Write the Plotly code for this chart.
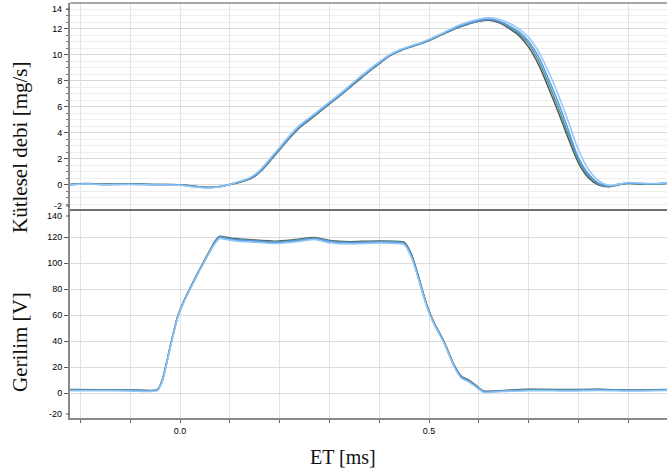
import plotly.graph_objects as go

# ---- measurement data -------------------------------------------------------
# time axis (ms) for the mass-flow traces
t_flow = [-0.22, -0.19, -0.15, -0.10, -0.05, 0.00, 0.02, 0.04, 0.06, 0.08,
          0.10, 0.12, 0.14, 0.15, 0.16, 0.17, 0.18, 0.20, 0.22, 0.24, 0.26, 0.28,
          0.30, 0.32, 0.34, 0.36, 0.38, 0.40, 0.42, 0.44, 0.46, 0.48,
          0.50, 0.52, 0.54, 0.56, 0.58, 0.60, 0.62, 0.64, 0.66, 0.68,
          0.70, 0.72, 0.74, 0.76, 0.78, 0.80, 0.82, 0.84, 0.86, 0.88,
          0.90, 0.94, 0.98]

# mass flow rate [mg/s], four injections
flow_1 = [0.02, 0.08, 0.03, 0.05, 0.02, 0.00, -0.10, -0.17, -0.20, -0.12,
          0.05, 0.25, 0.50, 0.72, 1.05, 1.45, 1.90, 2.80, 3.70, 4.50, 5.10, 5.70,
          6.30, 6.90, 7.55, 8.20, 8.80, 9.40, 9.95, 10.32, 10.60, 10.85,
          11.15, 11.50, 11.85, 12.20, 12.45, 12.65, 12.75, 12.60, 12.25, 11.80,
          11.05, 9.85, 8.15, 6.30, 4.20, 2.10, 0.85, 0.15, -0.10, 0.05,
          0.15, 0.08, 0.15]
flow_2 = [0.05, 0.10, 0.06, 0.08, 0.04, 0.02, -0.06, -0.14, -0.18, -0.14,
          0.02, 0.20, 0.44, 0.65, 0.97, 1.36, 1.80, 2.70, 3.60, 4.40, 5.00, 5.62,
          6.22, 6.82, 7.45, 8.10, 8.72, 9.32, 9.90, 10.28, 10.58, 10.82,
          11.10, 11.45, 11.80, 12.12, 12.38, 12.58, 12.66, 12.48, 12.05, 11.50,
          10.60, 9.25, 7.45, 5.55, 3.55, 1.70, 0.55, 0.00, -0.15, 0.00,
          0.10, 0.05, 0.12]
flow_3 = [0.00, 0.06, 0.02, 0.04, 0.00, -0.03, -0.12, -0.20, -0.24, -0.15,
          0.03, 0.28, 0.56, 0.80, 1.12, 1.54, 2.00, 2.90, 3.80, 4.58, 5.18, 5.78,
          6.38, 6.98, 7.62, 8.28, 8.88, 9.46, 10.00, 10.38, 10.65, 10.90,
          11.20, 11.55, 11.92, 12.28, 12.55, 12.75, 12.85, 12.75, 12.45, 12.00,
          11.35, 10.25, 8.70, 6.90, 4.85, 2.70, 1.20, 0.35, -0.02, 0.05,
          0.18, 0.10, 0.18]
flow_4 = [0.03, 0.07, 0.04, 0.06, 0.03, 0.01, -0.08, -0.15, -0.21, -0.13,
          0.04, 0.23, 0.47, 0.69, 1.01, 1.40, 1.85, 2.75, 3.66, 4.46, 5.06, 5.66,
          6.26, 6.86, 7.50, 8.15, 8.76, 9.36, 9.92, 10.30, 10.58, 10.84,
          11.12, 11.48, 11.82, 12.16, 12.42, 12.62, 12.72, 12.56, 12.15, 11.65,
          10.85, 9.55, 7.80, 5.90, 3.85, 1.90, 0.70, 0.08, -0.12, 0.02,
          0.12, 0.06, 0.14]

# time axis (ms) for the injector voltage traces
t_volt = [-0.22, -0.16, -0.10, -0.06, -0.045, -0.035, -0.025, -0.015, -0.005, 0.005,
          0.02, 0.04, 0.06, 0.07, 0.08, 0.09, 0.11, 0.15, 0.19, 0.23,
          0.27, 0.30, 0.34, 0.38, 0.42, 0.45, 0.465, 0.48, 0.495, 0.51,
          0.53, 0.55, 0.565, 0.58, 0.595, 0.61, 0.64, 0.70, 0.78, 0.84,
          0.90, 0.98]

# injector voltage [V], four injections
volt_1 = [2.2, 2.1, 2.0, 1.6, 2.2, 10.0, 26.0, 43.0, 58.0, 68.0,
          80.0, 95.0, 109.0, 115.5, 119.8, 119.0, 117.8, 116.8, 115.8, 117.0,
          118.8, 116.5, 115.5, 116.0, 116.0, 115.0, 105.0, 87.0, 67.5, 53.5,
          39.0, 21.0, 12.0, 9.0, 5.0, 0.8, 1.4, 2.2, 2.0, 2.4,
          2.0, 2.4]
volt_2 = [2.6, 2.5, 2.4, 2.0, 2.6, 10.8, 26.8, 43.6, 58.4, 68.6,
          80.6, 95.6, 109.8, 116.5, 120.6, 120.0, 118.8, 117.6, 116.8, 118.0,
          119.6, 117.4, 116.4, 116.8, 116.8, 116.0, 106.5, 88.2, 68.5, 54.2,
          39.8, 21.8, 12.8, 9.8, 5.6, 1.4, 1.8, 2.8, 2.6, 2.8,
          2.4, 2.8]
volt_3 = [1.8, 1.8, 1.6, 1.2, 1.8, 9.4, 25.4, 42.4, 57.4, 67.4,
          79.4, 94.4, 108.4, 114.8, 119.0, 118.2, 117.0, 116.0, 115.0, 116.2,
          118.0, 115.6, 114.6, 115.2, 115.2, 114.2, 104.0, 86.0, 66.8, 52.8,
          38.4, 20.4, 11.4, 8.4, 4.4, 0.4, 1.0, 1.8, 1.5, 2.0,
          1.6, 2.0]
volt_4 = [2.4, 2.3, 2.2, 1.8, 2.4, 10.4, 26.4, 43.2, 58.2, 68.2,
          80.2, 95.2, 109.4, 116.0, 120.2, 119.5, 118.3, 117.2, 116.3, 117.5,
          119.2, 117.0, 116.0, 116.4, 116.5, 115.5, 105.8, 87.6, 68.0, 53.8,
          39.4, 21.4, 12.4, 9.4, 5.3, 1.1, 1.6, 2.5, 2.3, 2.6,
          2.2, 2.6]

x_ticks = [-0.2, -0.1, 0.0, 0.1, 0.2, 0.3, 0.4, 0.5, 0.6, 0.7, 0.8, 0.9]
x_tick_text = ["", "", "0.0", "", "", "", "", "0.5", "", "", "", ""]
flow_ticks = [0, 2, 4, 6, 8, 10, 12]
volt_ticks = [0, 20, 40, 60, 80, 100, 120]

# ---- styling ----------------------------------------------------------------
tick_font = dict(family="Liberation Sans, Arial, sans-serif", size=9, color="#000000")
title_font = dict(family="Liberation Serif, Times New Roman, serif", size=21, color="#111111")
axis_gray = "#8a8a8a"

# plot area spans y = 3 .. 418 px of the 475 px page
PLOT_TOP, PLOT_BOTTOM = 3, 418
PLOT_H = PLOT_BOTTOM - PLOT_TOP


def py_to_paper(py):
    return (PLOT_BOTTOM - py) / PLOT_H


fig = go.Figure()

# drawing order: dark runs underneath, light blue on top
runs = [
    (flow_2, volt_2, "#555555"),
    (flow_4, volt_4, "#4a9a98"),
    (flow_1, volt_1, "#5b97e8"),
    (flow_3, volt_3, "#92c6f4"),
]
for yf, yv, col in runs:
    fig.add_trace(go.Scatter(x=t_flow, y=yf, mode="lines", xaxis="x", yaxis="y2",
                             line=dict(color=col, width=1.5, shape="spline", smoothing=1.0),
                             showlegend=False, hoverinfo="skip"))
    fig.add_trace(go.Scatter(x=t_volt, y=yv, mode="lines", xaxis="x", yaxis="y",
                             line=dict(color=col, width=1.5, shape="spline", smoothing=0.5),
                             showlegend=False, hoverinfo="skip"))

split = py_to_paper(210)  # boundary between the two panels

fig.update_layout(
    width=667, height=475,
    margin=dict(l=70, r=0, t=PLOT_TOP, b=475 - PLOT_BOTTOM),
    paper_bgcolor="white", plot_bgcolor="white",
    xaxis=dict(range=[-0.2209, 0.9779], anchor="y", tickmode="array",
               tickvals=x_ticks, ticktext=x_tick_text, ticks="outside", ticklen=3,
               tickcolor="#666666", tickfont=tick_font, showgrid=True,
               gridcolor="#e4e4e4", gridwidth=1, showline=True, linecolor=axis_gray,
               linewidth=2, zeroline=False),
    yaxis=dict(domain=[0, split], range=[-19.23, 140.77], anchor="x",
               tickmode="array", tickvals=volt_ticks, ticks="outside", ticklen=4,
               tickcolor="#555555", tickfont=tick_font, showgrid=True,
               gridcolor="#dedede", gridwidth=1, showline=True, linecolor=axis_gray,
               linewidth=2, zeroline=False),
    yaxis2=dict(domain=[split, 1], range=[-1.93, 13.99], anchor="x",
                tickmode="array", tickvals=flow_ticks, ticks="outside", ticklen=4,
                tickcolor="#555555", tickfont=tick_font, showgrid=True,
                gridcolor="#d9d9d9", gridwidth=1, showline=True, linecolor=axis_gray,
                linewidth=2, zeroline=False,
                minor=dict(tickmode="linear", tick0=0, dtick=0.5, ticks="outside",
                           ticklen=2, tickcolor="#777777", showgrid=True,
                           gridcolor="#eeeeee", gridwidth=1)),
)

# panel divider and top border
fig.add_shape(type="line", xref="paper", yref="paper", x0=0, x1=1, y0=split, y1=split,
              line=dict(color="#6f6f6f", width=2))
fig.add_shape(type="line", xref="paper", yref="paper", x0=0, x1=1, y0=1, y1=1,
              line=dict(color=axis_gray, width=1.5))

# end labels of the value axes, kept clear of the panel edges
edge_labels = [("14", 9), ("-2", 206), ("140", 216), ("-20", 414)]
for txt, py in edge_labels:
    fig.add_annotation(text=txt, xref="paper", x=0, yref="paper", y=py_to_paper(py),
                       xanchor="right", yanchor="middle", xshift=-6,
                       showarrow=False, font=tick_font)
    fig.add_shape(type="line", xref="paper", yref="paper", x0=-0.0067, x1=0,
                  y0=py_to_paper(py), y1=py_to_paper(py),
                  line=dict(color="#555555", width=1))

# axis titles
fig.add_annotation(text="Kütlesel debi [mg/s]", xref="paper", x=0, xshift=-50,
                   yref="paper", y=py_to_paper(148), textangle=-90, showarrow=False,
                   xanchor="center", yanchor="middle", font=title_font)
fig.add_annotation(text="Gerilim [V]", xref="paper", x=0, xshift=-50,
                   yref="paper", y=py_to_paper(342), textangle=-90, showarrow=False,
                   xanchor="center", yanchor="middle", font=title_font)
fig.add_annotation(text="ET [ms]", xref="paper", x=(343 - 70) / 597,
                   yref="paper", y=py_to_paper(457), showarrow=False,
                   xanchor="center", yanchor="middle",
                   font=dict(family=title_font["family"], size=20, color="#111111"))

fig.write_html("out.html")
